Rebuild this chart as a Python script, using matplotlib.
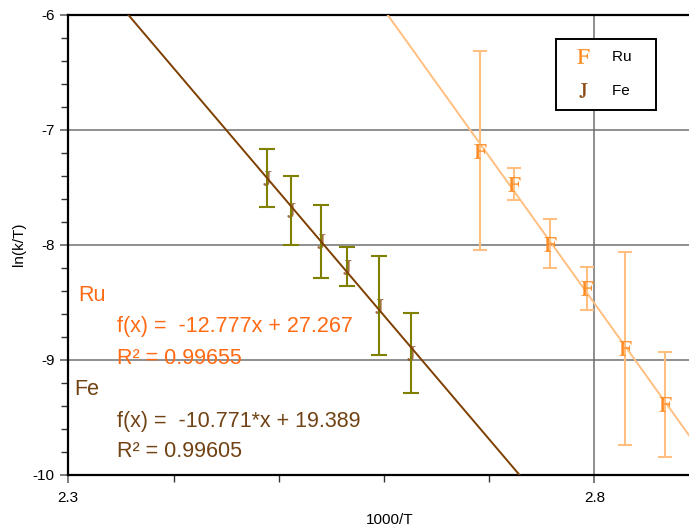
import numpy as np
import matplotlib
matplotlib.use('Agg')
import matplotlib.pyplot as plt
from matplotlib.lines import Line2D

plt.rcParams['font.family'] = ['Liberation Sans', 'DejaVu Sans']
plt.rcParams['mathtext.fontset'] = 'stix'

## data: 1000/T, ln(k/T) and error bars
ru_x = [2.691, 2.724, 2.758, 2.793, 2.829, 2.867]
ru_y = [-7.18, -7.47, -7.99, -8.38, -8.90, -9.39]
ru_err = [0.87, 0.14, 0.21, 0.19, 0.84, 0.46]

fe_x = [2.489, 2.512, 2.540, 2.565, 2.595, 2.626]
fe_y = [-7.42, -7.70, -7.97, -8.19, -8.53, -8.94]
fe_err = [0.25, 0.30, 0.32, 0.17, 0.43, 0.35]

## linear fits shown on the chart
ru_slope, ru_intercept = -12.777, 27.267
fe_slope, fe_intercept = -10.771, 19.389

x_ticks = [2.3, 2.8]
x_minor = [2.4, 2.5, 2.6, 2.7]

ru_color = '#ff8a1f'
ru_light = '#ffbf80'
ru_text = '#ff6a13'
fe_color = '#8b4a14'
fe_line = '#7f3f00'
fe_bar = '#808000'
fe_text = '#704214'

fig = plt.figure(figsize=(6.89, 5.29), dpi=100)
ax = fig.add_axes([68.3 / 689, 1 - 474.5 / 529, 1 - 68.3 / 689, 459.5 / 529])

xmin, xmax = 2.3, 2.89
ax.set_xlim(xmin, xmax)
ax.set_ylim(-10, -6)

## ticks and grid: horizontal at each unit, vertical only at 2.8
ax.set_xticks(x_ticks)
ax.set_xticks(x_minor, minor=True)
ax.set_yticks(np.arange(-10, -5.5, 1))
ax.set_yticks(np.arange(-10, -5.9, 0.2), minor=True)
ax.grid(True, which='major', color='#707070', linewidth=1.1, zorder=0)
ax.set_axisbelow(True)

## error bars
ax.errorbar(ru_x, ru_y, yerr=ru_err, fmt='none', ecolor=ru_light,
            elinewidth=1.5, capsize=5, capthick=1.5, zorder=2)
ax.errorbar(fe_x, fe_y, yerr=fe_err, fmt='none', ecolor=fe_bar,
            elinewidth=1.5, capsize=5.5, capthick=1.5, zorder=3)

## fit lines
xs = np.array([xmin, xmax])
ax.plot(xs, ru_slope * xs + ru_intercept, color=ru_light, linewidth=1.4, zorder=3)
ax.plot(xs, fe_slope * xs + fe_intercept, color=fe_line, linewidth=1.4, zorder=4)

## markers (symbol glyphs)
ax.plot(ru_x, ru_y, linestyle='none', marker=r'$\mathrm{F}$', color=ru_color,
        markersize=10.5, markeredgewidth=0.2, zorder=5)
ax.plot(fe_x, fe_y, linestyle='none', marker=r'$\mathrm{J}$', color=fe_color,
        markersize=10.5, markeredgewidth=0.2, alpha=0.8, zorder=2.5)

## fit annotations
fs = 15.5
ax.text(0.0161, 0.3906, 'Ru', color=ru_text, fontsize=fs, transform=ax.transAxes, va='center')
ax.text(0.0789, 0.3217, 'f(x) =  -12.777x + 27.267', color=ru_text, fontsize=fs,
        transform=ax.transAxes, va='center')
ax.text(0.0789, 0.2529, 'R² = 0.99655', color=ru_text, fontsize=fs,
        transform=ax.transAxes, va='center')
ax.text(0.0092, 0.1839, 'Fe', color=fe_text, fontsize=fs, transform=ax.transAxes, va='center')
ax.text(0.0789, 0.1149, 'f(x) =  -10.771*x + 19.389', color=fe_text, fontsize=fs,
        transform=ax.transAxes, va='center')
ax.text(0.0789, 0.0496, 'R² = 0.99605', color=fe_text, fontsize=fs,
        transform=ax.transAxes, va='center')

## axes styling
ax.spines['right'].set_visible(False)
for side in ['left', 'bottom', 'top']:
    ax.spines[side].set_linewidth(1.6)
    ax.spines[side].set_color('black')
ax.tick_params(which='major', direction='out', length=6, width=1.2, color='#666666',
               labelsize=11, pad=4)
ax.tick_params(which='minor', direction='out', length=5, width=1.0, color='#333333')
ax.tick_params(axis='x', which='both', top=False)
ax.tick_params(axis='x', which='major', pad=6)
ax.set_xticklabels(['2.3', '2.8'])
ax.set_yticklabels(['-10', '-9', '-8', '-7', '-6'])

ax.set_xlabel('1000/T', fontsize=11)
ax.set_ylabel('ln(k/T)', fontsize=11)
ax.xaxis.set_label_coords(0.518, -0.083)
ax.yaxis.set_label_coords(-0.068, 0.5)

## legend with symbol glyphs only
handles = [
    Line2D([], [], linestyle='none', marker=r'$\mathrm{F}$', color=ru_color,
           markersize=10.5, markeredgewidth=0.2),
    Line2D([], [], linestyle='none', marker=r'$\mathrm{J}$', color=fe_color,
           markersize=10.5, markeredgewidth=0.2),
]
leg = ax.legend(handles, ['Ru   ', 'Fe   '], loc='upper left', bbox_to_anchor=(0.7857, 0.9478),
                borderaxespad=0, fontsize=11, fancybox=False, framealpha=1,
                edgecolor='black', labelspacing=1.3, borderpad=0.75,
                handlelength=2.0, handletextpad=0.9)
leg.get_frame().set_linewidth(1.4)

plt.savefig('out.png', dpi=100)
